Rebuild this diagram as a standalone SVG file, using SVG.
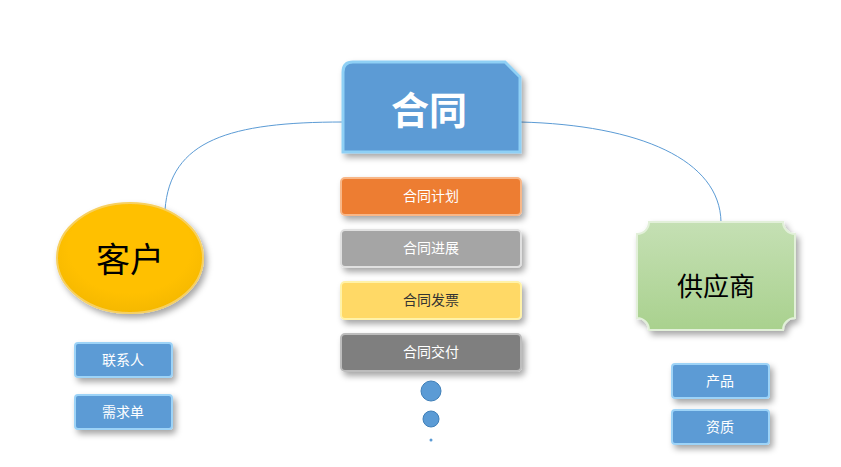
<svg xmlns="http://www.w3.org/2000/svg" width="841" height="467" viewBox="0 0 841 467">
<defs>
<filter id="sh" x="-20%" y="-20%" width="150%" height="160%"><feDropShadow dx="3" dy="4" stdDeviation="3" flood-color="#000" flood-opacity="0.35"/></filter>
<linearGradient id="gg" x1="0" y1="0" x2="0" y2="1"><stop offset="0" stop-color="#c5e0b4"/><stop offset="1" stop-color="#a9d18e"/></linearGradient>
<radialGradient id="yg" cx="0.5" cy="0.4" r="0.6"><stop offset="0.7" stop-color="#ffc000"/><stop offset="1" stop-color="#f5b800"/></radialGradient>
</defs>
<style>
.bar{stroke-width:2;filter:url(#sh)}
.lab{font-family:"Noto Sans CJK SC","Liberation Sans",sans-serif;font-size:14px;fill:#fff;text-anchor:middle}
.sm{fill:#5b9bd5;stroke:#9dd3f7;stroke-width:2;filter:url(#sh)}
.con{fill:none;stroke:#5b9bd5;stroke-width:1}
</style>
<rect width="841" height="467" fill="#fff"/>
<g id="connectors">
<path class="con" d="M343,122 C230,122 170,140 165,210"/>
<path class="con" d="M520,122 C640,125 720,160 721,222"/>
</g>
<g id="contract">
<path d="M353,62 H505 L520,77 V152 H343 V72 Q343,62 353,62 Z" fill="#5b9bd5" stroke="#8fd0f5" stroke-width="3" filter="url(#sh)"/>
<text x="429" y="124" font-family="Noto Sans CJK SC,sans-serif" font-size="38" font-weight="bold" fill="#fff" text-anchor="middle">合同</text>
</g>
<g id="customer">
<ellipse cx="130" cy="258" rx="73" ry="55" fill="url(#yg)" stroke="#f7d060" stroke-width="2" filter="url(#sh)"/>
<text x="130" y="272" font-family="Noto Sans CJK SC,sans-serif" font-size="34" fill="#000" text-anchor="middle">客户</text>
</g>
<g id="supplier">
<path d="M649,222 H783 A12,12 0 0 0 795,234 V318 A12,12 0 0 0 783,330 H649 A12,12 0 0 0 637,318 V234 A12,12 0 0 0 649,222 Z" fill="url(#gg)" stroke="#e2f0d9" stroke-width="2" filter="url(#sh)"/>
<text x="716" y="296" font-family="Noto Sans CJK SC,sans-serif" font-size="26" fill="#000" text-anchor="middle">供应商</text>
</g>
<g id="plan"><rect class="bar" x="341" y="178" width="180" height="37" rx="4" fill="#ed7d31" stroke="#f8b788"/><text class="lab" x="431" y="201">合同计划</text></g>
<g id="progress"><rect class="bar" x="341" y="230" width="180" height="37" rx="4" fill="#a5a5a5" stroke="#e0e0e0"/><text class="lab" x="431" y="253">合同进展</text></g>
<g id="invoice"><rect class="bar" x="341" y="282" width="180" height="37" rx="4" fill="#ffd966" stroke="#fff2a8"/><text class="lab" x="431" y="305" fill="#333" style="fill:#333">合同发票</text></g>
<g id="delivery"><rect class="bar" x="341" y="334" width="180" height="37" rx="4" fill="#7f7f7f" stroke="#bdbdbd"/><text class="lab" x="431" y="357">合同交付</text></g>
<g id="dots">
<circle cx="431" cy="391" r="10" fill="#5b9bd5" stroke="#3f7fb8"/>
<circle cx="431" cy="419" r="8" fill="#5b9bd5" stroke="#3f7fb8"/>
<circle cx="431" cy="440" r="1.5" fill="#5b9bd5"/>
</g>
<g id="contact"><rect class="sm" x="75" y="343" width="97" height="34" rx="3"/><text class="lab" x="123" y="365">联系人</text></g>
<g id="demand"><rect class="sm" x="75" y="395" width="97" height="34" rx="3"/><text class="lab" x="123" y="417">需求单</text></g>
<g id="product"><rect class="sm" x="672" y="364" width="97" height="34" rx="3"/><text class="lab" x="720" y="386">产品</text></g>
<g id="qual"><rect class="sm" x="672" y="410" width="97" height="34" rx="3"/><text class="lab" x="720" y="432">资质</text></g>
</svg>
